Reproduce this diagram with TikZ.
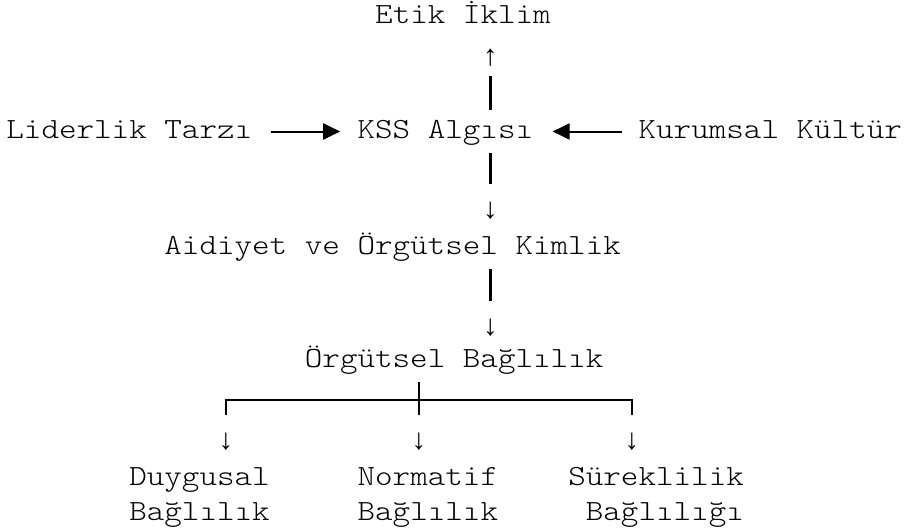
\documentclass[tikz,border=0pt]{standalone}
\usepackage{fontspec}
\newfontfamily\monofont{lmmonolt10-regular.otf}[FakeStretch=1.143]
\newfontfamily\arrowfont{Liberation Mono}
\usetikzlibrary{arrows.meta}

\begin{document}
\begin{tikzpicture}[x=0.5pt,y=-0.5pt]
\useasboundingbox (0,0) rectangle (907,530);
\begin{scope}[every node/.style={inner sep=0pt,anchor=base west,text height=10.2pt,text depth=3.7pt,
              font=\monofont\fontsize{14.63pt}{17.5pt}\selectfont}]
	\node (etik) at (374.8,24) {Etik İklim};
	\node (lider) at (6,138) {Liderlik Tarzı};
	\node (kss) at (357.2,138) {KSS Algısı};
	\node (kurum) at (638.2,138) {Kurumsal Kültür};
	\node (aidiyet) at (164,254) {Aidiyet ve Örgütsel Kimlik};
	\node (bag) at (304.5,367) {Örgütsel Bağlılık};
\end{scope}

% two-line labels: base is the last line
\begin{scope}[every node/.style={inner sep=0pt,anchor=base west,align=left,
              font=\monofont\fontsize{14.63pt}{17.5pt}\selectfont}]
	\node (duygu) at (128.9,520) {Duygusal\\Bağlılık};
	\node (norm) at (357.2,520) {Normatif\\Bağlılık};
	\node[align=right] (surek) at (567.9,520) {Süreklilik\\Bağlılığı};
\end{scope}

\begin{scope}[every node/.style={inner sep=0pt,font=\arrowfont\fontsize{14.63pt}{17.5pt}\selectfont}]
	\node (up1) at (490.5,57.5) {↑};
	\node (dn1) at (490.5,211) {↓};
	\node (dn2) at (490.5,328) {↓};
	\node (dnA) at (226,441.5) {↓};
	\node (dnB) at (419,441.5) {↓};
	\node (dnC) at (632,441.5) {↓};
\end{scope}
\coordinate (split) at (419,400);

\begin{scope}[flow/.style={-{Triangle[length=8.5pt,width=8pt]},line width=1pt},
              bar/.style={line width=1.4pt,shorten <=3.8pt,shorten >=13.5pt}]
	\draw[flow,shorten <=9pt,shorten >=8.5pt] (lider) -- (kss);
	\draw[flow,shorten <=8pt,shorten >=9.5pt] (kurum) -- (kss);
	\draw[bar,shorten >=9.25pt] (up1 |- kss.north) -- (up1.center);
	\draw[bar] (dn1 |- kss.south) -- (dn1.center);
	\draw[bar] (dn2 |- aidiyet.south) -- (dn2.center);
	\draw[bar] (dnB |- bag.south) -- (dnB.center);
	\draw[line width=1.2pt,shorten <=13.5pt,shorten >=13.5pt] (dnA.center) -- (dnA |- split) -- (dnC |- split) -- (dnC.center);
\end{scope}
\end{tikzpicture}
\end{document}
